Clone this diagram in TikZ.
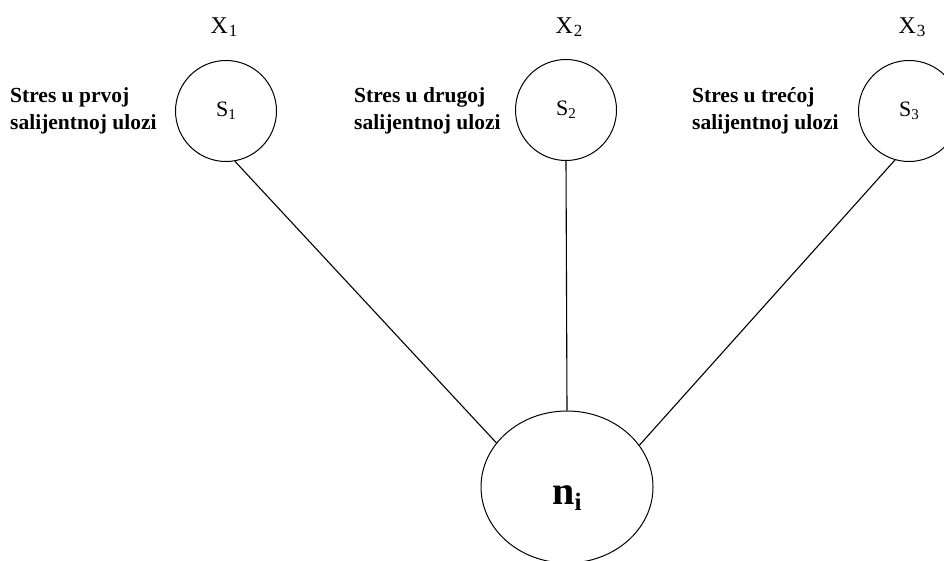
\documentclass[tikz,border=0pt]{standalone}
\usepackage{fontspec}
\setmainfont{Liberation Serif}
\usetikzlibrary{shapes.geometric}
\newcommand{\lowsub}[2]{\raisebox{-0.3ex}{\fontsize{#1}{#1}\selectfont #2}}
\begin{document}
\begin{tikzpicture}[x=1pt,y=-1pt,
  stressnode/.style={circle,draw,line width=1pt,minimum size=101pt,inner sep=0pt,font=\fontsize{22}{22}\selectfont},
  toplabel/.style={inner sep=0pt,font=\fontsize{24}{24}\selectfont},
  sidelabel/.style={inner sep=0pt,anchor=west,align=left,font=\bfseries\fontsize{21.5}{27}\selectfont},
  mainnode/.style={ellipse,draw,line width=1pt,minimum width=172pt,minimum height=152pt,inner sep=0pt,text height=38pt,text depth=4pt,font=\bfseries\fontsize{40}{40}\selectfont},
  link/.style={draw,line width=1.1pt}]
\useasboundingbox (0,0) rectangle (944,561);
\clip (0,0) rectangle (944,561);
\node[stressnode] (s1) at (226,111) {S\lowsub{15}{1}};
\node[stressnode] (s2) at (566,110) {S\lowsub{15}{2}};
\node[stressnode] (s3) at (909,111) {S\lowsub{15}{3}};
\node[toplabel] (x1) at (224,27) {X\kern1pt\lowsub{17}{1}};
\node[toplabel] (x2) at (569,27) {X\kern1pt\lowsub{17}{2}};
\node[toplabel] (x3) at (912,27) {X\kern1pt\lowsub{17}{3}};
\node[sidelabel] (l1) at (10,111) {Stres u prvoj\\salijentnoj ulozi};
\node[sidelabel] (l2) at (354,111) {Stres u drugoj\\salijentnoj ulozi};
\node[sidelabel] (l3) at (692,111) {Stres u trećoj\\salijentnoj ulozi};
\node[mainnode] (n) at (567,487) {n\raisebox{-0.35ex}{\fontsize{25}{25}\selectfont i}};
\draw[link] (s1.280) -- (n.148);
\draw[link] (s2.south) -- (n.north);
\draw[link] (s3.254) -- (n.30);
\end{tikzpicture}
\end{document}
